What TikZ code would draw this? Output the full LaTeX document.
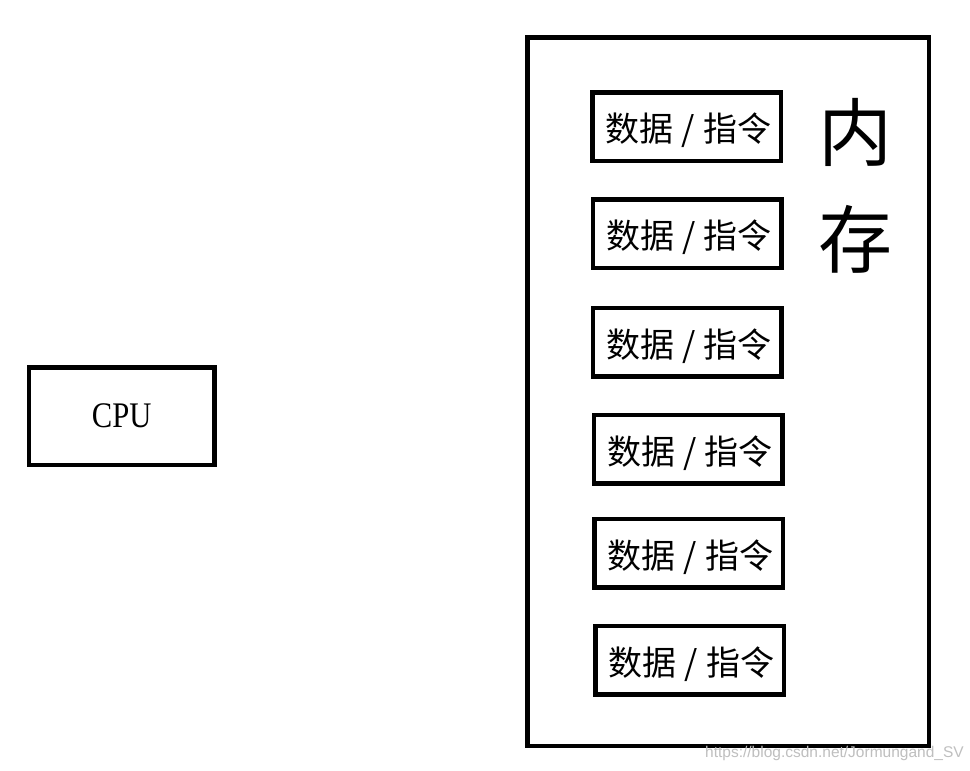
\documentclass[tikz,border=0pt]{standalone}
\usepackage{fontspec}
\setmainfont{Liberation Serif}
\newfontfamily\cjk{Noto Sans CJK SC}
\newfontfamily\wmfont{Liberation Sans}
\newcommand{\dz}{\raisebox{-4pt}[\height][\depth]{\hspace{4pt}数据\hspace{8pt}/\hspace{8pt}指令}}
\begin{document}
\begin{tikzpicture}[x=1pt,y=-1pt,
  box/.style={draw=black, line width=4.5pt, rectangle, inner sep=0pt},
  cell/.style={box, minimum width=188.5pt, minimum height=68.5pt, font=\cjk\fontsize{34}{36}\selectfont},
]
\useasboundingbox[fill=white] (0,0) rectangle (970,771);
\node[box, minimum width=185.5pt, minimum height=97.5pt, font=\fontsize{36}{38}\selectfont] (cpu) at (121.75,416) {\scalebox{0.85}[1]{CPU}};
\node[box, minimum width=401.5pt, minimum height=708.5pt] (mem) at (728,391.5) {};
\node[cell] (c1) at (686.5,126.5) {\dz};
\node[cell] (c2) at (687,233.5) {\dz};
\node[cell] (c3) at (687,342) {\dz};
\node[cell] (c4) at (688,449) {\dz};
\node[cell] (c5) at (688.5,553) {\dz};
\node[cell] (c6) at (689.5,660) {\dz};
\node[font=\cjk\fontsize{74}{107}\selectfont, align=center, inner sep=0pt] (label) at (855,186) {内\\存};
\node[font=\wmfont\fontsize{15.5}{16}\selectfont, text=black!25, anchor=base west, inner sep=0pt] (wm) at (705,757) {https://blog.csdn.net/Jormungand\_SV};
\end{tikzpicture}
\end{document}
